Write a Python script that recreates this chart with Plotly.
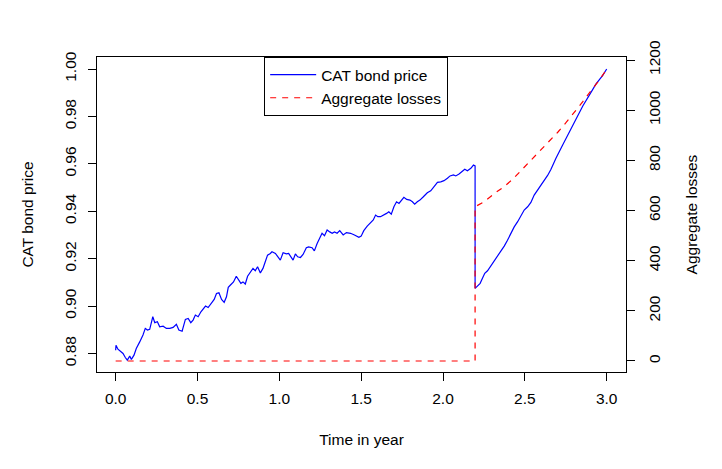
import plotly.graph_objects as go

# CAT bond price path
price_t = [
    0.0, 0.002, 0.014, 0.031, 0.045, 0.059, 0.071, 0.086, 0.096, 0.112,
    0.126, 0.147, 0.167, 0.181, 0.194, 0.208, 0.218, 0.227, 0.239, 0.255,
    0.269, 0.290, 0.310, 0.331, 0.351, 0.371, 0.386, 0.406, 0.426, 0.443,
    0.459, 0.473, 0.487, 0.504, 0.521, 0.535, 0.549, 0.565, 0.585, 0.602,
    0.616, 0.631, 0.647, 0.663, 0.677, 0.688, 0.700, 0.720, 0.737, 0.751,
    0.765, 0.778, 0.792, 0.806, 0.822, 0.839, 0.853, 0.867, 0.884, 0.900,
    0.914, 0.928, 0.945, 0.955, 0.976, 0.996, 1.006, 1.023, 1.043, 1.057,
    1.072, 1.084, 1.098, 1.112, 1.129, 1.145, 1.165, 1.179, 1.200, 1.214,
    1.231, 1.247, 1.261, 1.276, 1.292, 1.308, 1.323, 1.337, 1.353, 1.369,
    1.390, 1.410, 1.435, 1.459, 1.486, 1.500, 1.516, 1.537, 1.557, 1.574,
    1.588, 1.602, 1.618, 1.639, 1.655, 1.669, 1.684, 1.700, 1.716, 1.731,
    1.745, 1.761, 1.778, 1.798, 1.813, 1.827, 1.843, 1.859, 1.880, 1.904,
    1.925, 1.945, 1.966, 1.986, 2.006, 2.027, 2.043, 2.064, 2.078, 2.098,
    2.119, 2.133, 2.149, 2.170, 2.186, 2.196, 2.196, 2.211, 2.227, 2.241,
    2.255, 2.272, 2.292, 2.312, 2.333, 2.353, 2.374, 2.394, 2.415, 2.435,
    2.456, 2.476, 2.496, 2.517, 2.537, 2.557, 2.578, 2.598, 2.618, 2.639,
    2.659, 2.690, 2.731, 2.772, 2.813, 2.854, 2.894, 2.935, 2.976, 3.0,
]
price = [
    0.8814, 0.8835, 0.8818, 0.8807, 0.8800, 0.8783, 0.8772, 0.8789, 0.8775, 0.8793,
    0.8821, 0.8849, 0.8878, 0.8906, 0.8899, 0.8902, 0.8927, 0.8955, 0.8930, 0.8934,
    0.8913, 0.8915, 0.8906, 0.8906, 0.8910, 0.8923, 0.8899, 0.8894, 0.8944, 0.8948,
    0.8930, 0.8941, 0.8962, 0.8955, 0.8976, 0.8986, 0.9000, 0.8994, 0.9011, 0.9028,
    0.9053, 0.9056, 0.9028, 0.9016, 0.9039, 0.9079, 0.9088, 0.9102, 0.9126, 0.9110,
    0.9096, 0.9102, 0.9093, 0.9126, 0.9145, 0.9159, 0.9149, 0.9166, 0.9140, 0.9159,
    0.9187, 0.9215, 0.9222, 0.9229, 0.9222, 0.9205, 0.9194, 0.9225, 0.9220, 0.9222,
    0.9208, 0.9194, 0.9220, 0.9208, 0.9205, 0.9218, 0.9246, 0.9250, 0.9246, 0.9233,
    0.9264, 0.9286, 0.9307, 0.9297, 0.9321, 0.9313, 0.9307, 0.9313, 0.9307, 0.9318,
    0.9300, 0.9310, 0.9307, 0.9300, 0.9290, 0.9295, 0.9318, 0.9337, 0.9349, 0.9363,
    0.9384, 0.9377, 0.9377, 0.9384, 0.9391, 0.9398, 0.9388, 0.9419, 0.9440, 0.9433,
    0.9447, 0.9459, 0.9450, 0.9447, 0.9440, 0.9430, 0.9440, 0.9447, 0.9461, 0.9478,
    0.9486, 0.9506, 0.9522, 0.9524, 0.9529, 0.9539, 0.9549, 0.9553, 0.9549, 0.9557,
    0.9567, 0.9577, 0.9571, 0.9581, 0.9595, 0.9591, 0.9075, 0.9084, 0.9096, 0.9117,
    0.9138, 0.9149, 0.9169, 0.9187, 0.9208, 0.9233, 0.9253, 0.9278, 0.9307, 0.9334,
    0.9356, 0.9384, 0.9405, 0.9419, 0.9437, 0.9468, 0.9489, 0.9510, 0.9532, 0.9551,
    0.9576, 0.9624, 0.9679, 0.9736, 0.9789, 0.9844, 0.9890, 0.9937, 0.9973, 1.0000,
]

# aggregate losses
loss_t = [
    0.0, 2.196, 2.196, 2.251, 2.323, 2.373, 2.425, 2.476, 2.517, 2.557,
    2.598, 2.649, 2.701, 2.751, 2.802, 2.854, 2.904, 2.955, 3.0,
]
losses = [
    0, 0, 615, 635, 672, 695, 724, 758, 787, 812,
    842, 876, 912, 950, 991, 1034, 1078, 1120, 1163,
]

x_ticks = [0.0, 0.5, 1.0, 1.5, 2.0, 2.5, 3.0]
price_ticks = [0.88, 0.90, 0.92, 0.94, 0.96, 0.98, 1.00]
loss_ticks = [0, 200, 400, 600, 800, 1000, 1200]

FONT = dict(family="Liberation Sans, Arial, sans-serif", size=15.5, color="black")

fig = go.Figure()
fig.add_scatter(
    x=price_t,
    y=price,
    mode="lines",
    name="CAT bond price",
    line=dict(color="#0000ff", width=1.2),
)
fig.add_scatter(
    x=loss_t,
    y=losses,
    mode="lines",
    name="Aggregate losses",
    yaxis="y2",
    line=dict(color="#ff0000", width=1.2, dash="6px,6px"),
)

axis_style = dict(
    showgrid=False,
    zeroline=False,
    showline=True,
    linecolor="black",
    linewidth=1,
    ticks="outside",
    ticklen=8,
    tickcolor="black",
    tickfont=FONT,
    automargin=False,
)

# the page puts the figure 8px in from the top left corner
fig.update_layout(
    width=722,
    height=469,
    margin=dict(l=89, r=104, t=49, b=105),
    plot_bgcolor="white",
    paper_bgcolor="white",
    font=FONT,
    xaxis=dict(
        range=[-0.114, 3.118],
        tickvals=x_ticks,
        ticktext=[f"{v:.1f}" for v in x_ticks],
        mirror=True,
        ticklabelstandoff=4,
        title=dict(text="Time in year", font=FONT, standoff=28),
        **axis_style,
    ),
    yaxis=dict(
        range=[0.8722, 1.00506],
        tickvals=price_ticks,
        ticktext=[f"{v:.2f}" for v in price_ticks],
        tickangle=-90,
        mirror=True,
        ticklabelstandoff=6,
        title=dict(text="CAT bond price", font=FONT, standoff=24),
        **axis_style,
    ),
    yaxis2=dict(
        range=[-43.9, 1212],
        overlaying="y",
        side="right",
        tickvals=loss_ticks,
        tickangle=-90,
        ticklabelstandoff=6,
        title=dict(text="Aggregate losses", font=FONT, standoff=24),
        **axis_style,
    ),
    legend=dict(
        x=0.316,
        y=1.0,
        xanchor="left",
        yanchor="top",
        bordercolor="black",
        borderwidth=1,
        bgcolor="white",
        font=FONT,
        itemwidth=46,
    ),
)

fig.write_html("out.html")
